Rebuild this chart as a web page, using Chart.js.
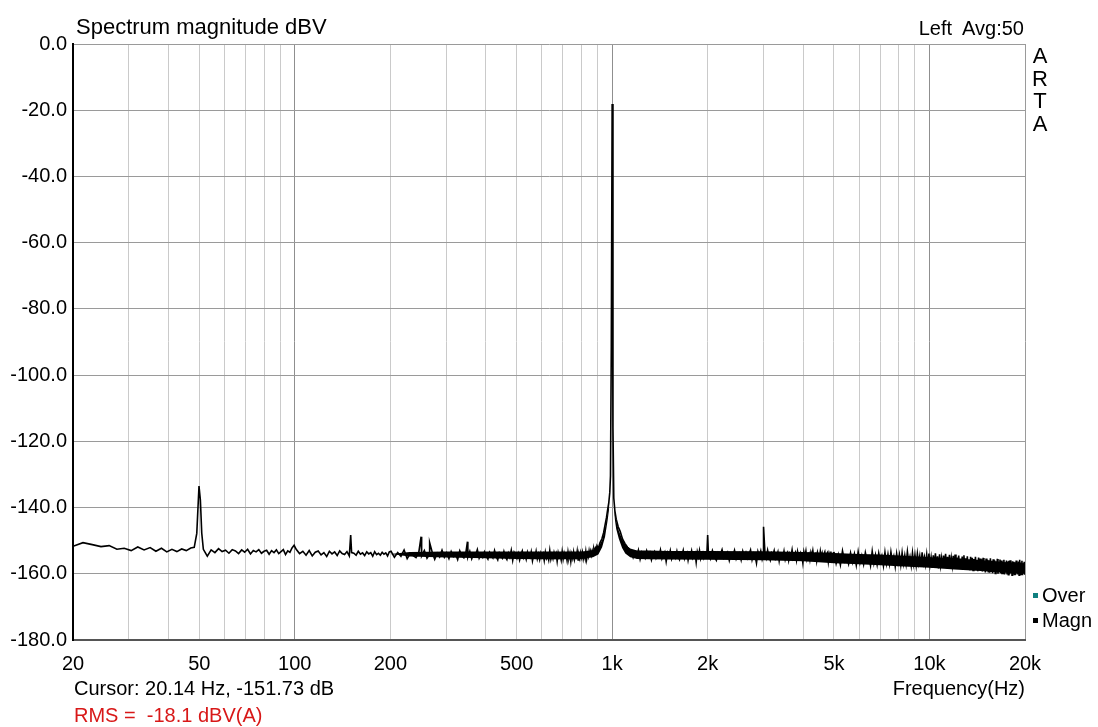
<!DOCTYPE html>
<html><head><meta charset="utf-8">
<script src="https://cdn.jsdelivr.net/npm/chart.js@4.4.1/dist/chart.umd.min.js"></script>
<style>
html,body{margin:0;padding:0;background:#fff;}
#wrap{position:relative;width:1098px;height:727px;font-family:"Liberation Sans",Arial,sans-serif;color:#000;overflow:hidden;}
#c{position:absolute;left:0;top:0;}
.t{position:absolute;white-space:pre;line-height:20px;font-size:20px;}
.sq{display:inline-block;width:5px;height:5px;margin-right:4px;vertical-align:middle;position:relative;top:-1px;}
</style></head><body>
<div id="wrap">
<canvas id="c" width="1098" height="727"></canvas>
<div class="t" style="left:76px;top:16px;font-size:22px;line-height:22px;">Spectrum magnitude dBV</div>
<div class="t" style="right:74px;top:18px;">Left  Avg:50</div>
<div class="t" style="left:1030px;top:45px;width:20px;text-align:center;font-size:22px;line-height:22.5px;">A<br>R<br>T<br>A</div>
<div class="t" style="left:1033px;top:585px;"><span class="sq" style="background:#108080"></span>Over</div>
<div class="t" style="left:1033px;top:610px;"><span class="sq" style="background:#000"></span>Magn</div>
<div class="t" style="left:74px;top:678px;">Cursor: 20.14 Hz, -151.73 dB</div>
<div class="t" style="right:73px;top:678px;">Frequency(Hz)</div>
<div class="t" style="left:74px;top:705px;color:#d81818;">RMS =  -18.1 dBV(A)</div>
</div>
<script>
// ---- data ----
const gridFreqs = [20,30,40,50,60,70,80,90,100,200,300,400,500,600,700,800,900,1000,2000,3000,4000,5000,6000,7000,8000,9000,10000,20000];
const labelFreqs = [20,50,100,200,500,1000,2000,5000,10000,20000];
const labelTexts = ['20','50','100','200','500','1k','2k','5k','10k','20k'];
const yTicksMin = -180, yTicksMax = 0, yStep = 20;

// noise segments: start frequency, FFT bin step (Hz), magnitudes (dBV)
const seg1Start = 20, seg1Step = 1.5;
const seg1Db = [-151.7,-150.6,-151.2,-151.8,-151.5,-152.6,-152.3,-153.0,-151.9,-152.8,-152.1,-153.2,-152.3,-153.4,-152.6,-153.3,-152.5,-153.0,-152.2];

const hum50Freq = [48.2,49.1,49.9,50.4,50.9];
const hum50Db = [-152.0,-147.8,-133.5,-137.7,-147.7];

const seg2Start = 51.5, seg2Step = 1.5;
const seg2Db = [-152.6,-154.7,-152.8,-153.6,-152.4,-153.3,-152.9,-153.8,-152.7,-153.1,-153.9,-152.8,-153.5,-152.6,-154.0,-153.0,-153.4,-152.7,-153.8,-153.2,-152.9,-154.1,-153.0,-153.6,-152.8,-153.9,-153.3,-152.7,-154.2,-153.1,-153.5,-152.2,-151.4];

const seg3Start = 101, seg3Step = 2.5;
const seg3Db = [-152.6,-153.9,-153.2,-154.4,-153.0,-154.6,-153.5,-153.1,-154.3,-153.6,-154.8,-153.2,-154.0,-153.4,-154.5,-153.1,-153.9,-154.2,-153.3,-154.6,
-153.6,-153.8,-154.4,-153.2,-154.1,-153.7,-154.5,-153.4,-154.0,-153.6,-154.7,-153.3,-154.2,-153.8,-154.4,-153.5,-154.1,-153.7,-154.6,-153.4];

const seg4Start = 201, seg4Step = 5;
const seg4Db = [
-153.2,-155.0,-153.6,-154.7,-152.8,-155.4,-153.9,-154.5,-155.1,-153.4,
-154.6,-153.0,-155.3,-154.1,-153.5,-155.6,-153.8,-154.9,-152.9,-155.0,
-153.7,-155.4,-153.3,-154.8,-154.0,-155.7,-153.1,-154.6,-155.2,-153.6,
-154.9,-153.2,-155.5,-153.9,-154.4,-152.7,-155.3,-154.1,-155.0,-153.4,
-154.7,-155.6,-153.5,-154.3,-155.2,-153.0,-154.8,-155.8,-153.7,-154.5,
-155.3,-153.3,-154.9,-155.7,-153.8,-155.0,-152.9,-155.9,-153.6,-154.6,
-155.4,-153.9,-155.8,-154.2,-153.1,-155.1,-154.0,-155.6,-153.5,-154.8,
-155.2,-153.4,-156.1,-154.3,-155.0,-153.2,-155.5,-154.1,-155.7,-153.8,
-155.0,-154.0,-156.0,-153.5,-155.3,-154.4,-155.8,-153.0,-155.6,-154.2,
-155.4,-153.6,-154.9,-153.9,-156.2,-153.7,-155.1,-154.5,-155.9,-153.3,
-155.5,-153.8,-155.0,-154.4,-156.0,-153.4,-155.2,-153.9,-156.3,-154.1,
-155.3,-153.5,-155.7,-154.6,-155.1,-153.2,-155.8,-154.3,-155.4,-153.7,
-155.0,-153.6,-155.5,-154.2,-155.2,-153.3,-155.6,-153.9,-154.8,-153.1,
-154.6,-153.2,-154.3,-153.0,-153.8,-152.5,-153.4,-152.2,-152.7,-151.5];

const toneFreq = [905,916,928,940,950,960,968,976,983,988,994,1000,1006,1012,1020,1030,1045,1060,1078,1097,1118,1140];
const toneDb = [-152.3,-150.6,-149.5,-147.6,-145.2,-143.0,-140.6,-138.5,-135.5,-130.4,-91.2,-18.1,-115.9,-137.1,-141.0,-143.5,-145.8,-147.2,-149.5,-150.8,-152.0,-152.8];

const seg5Start = 1150, seg5Step = 15;
const seg5Db = [
-153.2,-155.1,-153.8,-154.9,-152.9,-155.6,-153.5,-154.4,-155.3,-153.1,
-154.7,-153.6,-155.8,-154.0,-153.3,-155.2,-153.9,-154.6,-152.8,-155.4,
-154.1,-153.4,-156.3,-153.7,-154.8,-153.0,-155.5,-154.2,-153.6,-155.0,
-153.2,-154.9,-155.7,-153.8,-154.3,-152.9,-155.3,-154.0,-153.5,-155.9,
-153.9,-154.6,-153.1,-155.2,-154.4,-153.7,-156.5,-153.4,-154.8,-153.0,
-155.4,-154.2,-153.6,-155.1,-153.9,-154.5,-153.3];

const seg6Start = 2010, seg6Step = 30;
const seg6Db = [
-153.5,-155.4,-153.0,-154.8,-155.9,-153.6,-154.3,-152.7,-155.2,-154.0,
-153.4,-156.0,-153.9,-154.6,-152.9,-155.5,-154.2,-153.7,-155.8,-153.2,
-154.9,-153.6,-155.3,-154.1,-152.8,-155.7,-153.8,-154.5,-156.8,-153.3,
-154.7,-153.1,-155.6,-154.0,-153.5,-155.2,-152.9,-154.8,-155.9,-153.7,
-154.3,-153.0,-155.4,-154.6,-153.4,-156.1,-153.8,-154.2,-155.0,-153.2,
-155.6,-154.1,-153.5,-155.9,-153.9,-154.7,-152.8,-155.3,-154.4,-153.6,
-155.8,-153.3,-154.9,-155.2,-153.7,-154.5,-156.7,-153.4,-154.8,-153.1,
-155.5,-154.2,-153.8,-155.7,-153.5,-154.6,-153.0,-155.1,-154.3,-153.9,
-156.0,-153.6,-154.7,-155.3,-153.2,-154.9,-153.8,-155.6,-154.1,-153.4,
-155.2,-154.0,-153.6,-156.2,-153.9,-154.8,-153.3,-155.5,-154.4,-153.7];

const seg7Start = 5000, seg7Step = 80;
const seg7Db = [
-153.4,-156.9,-154.2,-157.3,-153.1,-156.2,-154.8,-157.0,-153.7,-156.5,
-154.0,-157.4,-153.3,-156.7,-154.5,-157.1,-153.6,-156.0,-154.9,-157.5,
-153.2,-156.8,-154.3,-157.2,-153.8,-156.4,-154.6,-157.6,-153.5,-156.9,
-154.1,-157.0,-153.4,-156.3,-154.7,-157.8,-153.9,-156.6,-154.2,-157.3,
-153.6,-156.9,-154.4,-157.1,-153.3,-156.5,-154.8,-157.5,-153.7,-157.0,
-154.3,-157.4,-153.9,-156.8,-154.6,-157.9,-153.5,-156.7,-154.9,-157.2,
-154.2,-157.8,-153.9,-157.3,-155.0,-158.2,-154.4,-157.6,-153.8,-157.9,
-154.7,-158.4,-154.1,-157.5,-155.2,-158.0,-154.5,-157.7,-154.0,-158.3,
-154.9,-157.9,-154.3,-158.1,-155.3,-157.6,-154.6,-158.5,-154.2,-157.8,
-155.1,-158.2,-154.5,-157.9,-155.4,-158.6,-154.8,-158.0,-154.4,-158.4,
-155.3,-158.7,-154.7,-158.1,-155.6,-158.9,-154.9,-158.3,-155.2,-159.0,
-155.5,-158.5,-154.9,-158.8,-155.8,-159.2,-155.1,-158.6,-155.4,-159.1,
-155.6,-159.3,-155.2,-158.9,-156.0,-159.6,-155.4,-159.0,-155.8,-159.4,
-155.9,-159.7,-155.3,-159.2,-156.1,-159.8,-155.6,-159.5,-155.9,-159.9,
-156.2,-159.6,-155.5,-160.0,-156.3,-159.4,-155.7,-159.8,-156.0,-160.1,
-156.4,-159.9,-155.8,-160.2,-156.5,-159.7,-156.0,-160.0,-156.3,-160.3,
-156.1,-160.1,-155.9,-159.8,-156.6,-160.4,-156.2,-159.9,-156.4,-160.2,
-156.5,-160.3,-156.0,-159.9,-156.7,-160.2,-156.3,-160.4,-155.8,-160.1,
-156.6,-160.2,-156.1,-160.4,-156.8,-160.0,-156.4,-160.3];

// harmonic / hum spurs
const spurFreq = [150,250,266,350,2000,3000];
const spurDb = [-148.3,-148.8,-150.6,-150.3,-148.3,-145.8];

// solid core of the dense noise band (many FFT bins per pixel), incl. the skirt of the 1 kHz tone
const coreAFreq = [200,230,300,400,500,600,700,800,870,905,930,950,968,980];
const coreAHi = [-154.0,-153.4,-153.3,-153.3,-153.3,-153.3,-153.3,-153.3,-153.0,-152.0,-149.8,-146.0,-141.5,-137.5];
const coreALo = [-154.0,-154.8,-155.1,-155.3,-155.5,-155.6,-155.6,-155.5,-155.0,-154.2,-152.0,-148.8,-143.8,-139.8];
const coreBFreq = [1016,1030,1050,1075,1100,1140,1200,1300,1500,2000,3000,4000,5000,6000,7000,8000,10000,12000,14000,16000,18000,20000];
const coreBHi = [-140.0,-144.0,-147.0,-149.5,-151.2,-152.4,-153.0,-153.0,-153.1,-153.1,-153.2,-153.4,-153.7,-154.0,-154.2,-154.5,-155.0,-155.5,-156.0,-156.4,-156.7,-156.9];
const coreBLo = [-142.5,-146.5,-149.5,-152.2,-153.9,-155.0,-155.5,-155.6,-155.7,-155.8,-155.9,-156.2,-156.8,-157.1,-157.4,-157.7,-158.2,-158.7,-159.1,-159.4,-159.6,-159.8];

// ---- build points ----
function seg(start, step, vals){ return vals.map((v,i)=>({x:start+i*step, y:v})); }
function pairs(fs, ds){ return fs.map((f,i)=>({x:f, y:ds[i]})); }
const pts = [].concat(
  seg(seg1Start,seg1Step,seg1Db), pairs(hum50Freq,hum50Db),
  seg(seg2Start,seg2Step,seg2Db), seg(seg3Start,seg3Step,seg3Db),
  seg(seg4Start,seg4Step,seg4Db), pairs(toneFreq,toneDb),
  seg(seg5Start,seg5Step,seg5Db), seg(seg6Start,seg6Step,seg6Db),
  seg(seg7Start,seg7Step,seg7Db), pairs(spurFreq,spurDb)
).sort((a,b)=>a.x-b.x);

const FONT = '"Liberation Sans", Arial, sans-serif';
const labelMap = {}; labelFreqs.forEach((f,i)=>labelMap[f]=labelTexts[i]);
const bandStyle = {borderWidth:0, pointRadius:0, tension:0, backgroundColor:'#000', borderColor:'#000'};

new Chart(document.getElementById('c'), {
  type:'line',
  data:{datasets:[
    {label:'Magn', data:pts, borderColor:'#000', borderWidth:1.6, pointRadius:0, tension:0, fill:false},
    Object.assign({label:'coreAHi', data:pairs(coreAFreq,coreAHi), fill:'+1'}, bandStyle),
    Object.assign({label:'coreALo', data:pairs(coreAFreq,coreALo), fill:false}, bandStyle),
    Object.assign({label:'coreBHi', data:pairs(coreBFreq,coreBHi), fill:'+1'}, bandStyle),
    Object.assign({label:'coreBLo', data:pairs(coreBFreq,coreBLo), fill:false}, bandStyle)
  ]},
  options:{
    responsive:false, animation:false, devicePixelRatio:1, parsing:false,
    layout:{padding:{left:0,right:73,top:44,bottom:0}},
    plugins:{legend:{display:false}, tooltip:{enabled:false}, title:{display:false}, filler:{propagate:false}},
    scales:{
      x:{type:'logarithmic', min:20, max:20000,
        afterBuildTicks:s=>{ s.ticks = gridFreqs.map(v=>({value:v})); },
        afterFit:s=>{ s.height = 87; },
        ticks:{autoSkip:false, maxRotation:0, minRotation:0, padding:12, color:'#000',
          font:{family:FONT, size:20}, callback:(v)=> (labelMap[v] !== undefined ? labelMap[v] : '')},
        grid:{drawTicks:false, lineWidth:1,
          color:ctx=>{ const v = ctx.tick ? ctx.tick.value : 0; return (v===100||v===1000||v===10000) ? '#8f8f8f' : (v===20000 ? '#9a9a9a' : '#cacaca'); }},
        border:{color:'#555', width:2}
      },
      y:{min:yTicksMin, max:yTicksMax,
        afterFit:s=>{ s.width = 73; },
        ticks:{stepSize:yStep, padding:6, color:'#000', font:{family:FONT, size:20}, callback:v=>Number(v).toFixed(1)},
        grid:{drawTicks:false, color:'#9a9a9a', lineWidth:1},
        border:{color:'#000', width:2}
      }
    }
  }
});
</script>
</body></html>
